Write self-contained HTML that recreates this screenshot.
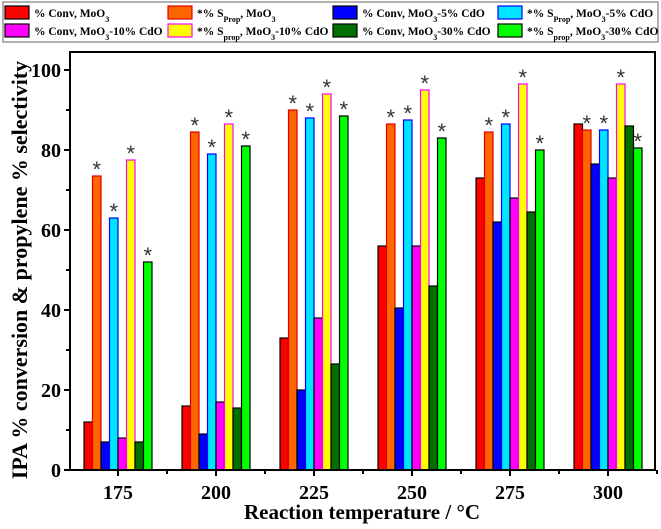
<!DOCTYPE html>
<html><head><meta charset="utf-8"><style>
body{margin:0;background:#fff;}
svg{display:block;font-family:"Liberation Serif",serif;}
</style></head><body>
<svg id="chart" width="661" height="529">
<g id="legend">
<rect x="3" y="2" width="655" height="40" fill="#fff" stroke="#999" stroke-width="1.5"/>
</g>
<g id="plot"></g>
<text x="362" y="519" text-anchor="middle" font-size="21" font-weight="bold">Reaction temperature / °C</text>
<text transform="translate(27,270) rotate(-90)" text-anchor="middle" font-size="22" font-weight="bold">IPA % conversion &amp; propylene % selectivity</text>
</svg>
<script>
const categories = ["175","200","225","250","275","300"];
const convMoO3 = [12,16,33,56,73,86.5];
const selMoO3 = [73.5,84.5,90,86.5,84.5,85];
const conv5 = [7,9,20,40.5,62,76.5];
const sel5 = [63,79,88,87.5,86.5,85];
const conv10 = [8,17,38,56,68,73];
const sel10 = [77.5,86.5,94,95,96.5,96.5];
const conv30 = [7,15.5,26.5,46,64.5,86];
const sel30 = [52,81,88.5,83,80,80.5];
const yTicks = [0,20,40,60,80,100];

const series = [
 {v:convMoO3, fill:"#ff0000", stroke:"#000", star:false, name:"conv-moo3", label:'% Conv, MoO<tspan baseline-shift="sub" font-size="8">3</tspan>'},
 {v:selMoO3, fill:"#ff6600", stroke:"#e00000", star:true, name:"sel-moo3", label:'*% S<tspan baseline-shift="sub" font-size="8">Prop</tspan>, MoO<tspan baseline-shift="sub" font-size="8">3</tspan>'},
 {v:conv5, fill:"#0000ff", stroke:"#000", star:false, name:"conv-5cdo", label:'% Conv, MoO<tspan baseline-shift="sub" font-size="8">3</tspan>-5% CdO'},
 {v:sel5, fill:"#00e5ff", stroke:"#0000ff", star:true, name:"sel-5cdo", label:'*% S<tspan baseline-shift="sub" font-size="8">Prop</tspan>, MoO<tspan baseline-shift="sub" font-size="8">3</tspan>-5% CdO'},
 {v:conv10, fill:"#ff00ff", stroke:"#000", star:false, name:"conv-10cdo", label:'% Conv, MoO<tspan baseline-shift="sub" font-size="8">3</tspan>-10% CdO'},
 {v:sel10, fill:"#ffff00", stroke:"#ff00ff", star:true, name:"sel-10cdo", label:'*% S<tspan baseline-shift="sub" font-size="8">prop</tspan>, MoO<tspan baseline-shift="sub" font-size="8">3</tspan>-10% CdO'},
 {v:conv30, fill:"#007000", stroke:"#000", star:false, name:"conv-30cdo", label:'% Conv, MoO<tspan baseline-shift="sub" font-size="8">3</tspan>-30% CdO'},
 {v:sel30, fill:"#00ff00", stroke:"#000", star:true, name:"sel-30cdo", label:'*% S<tspan baseline-shift="sub" font-size="8">prop</tspan>, MoO<tspan baseline-shift="sub" font-size="8">3</tspan>-30% CdO'}
];
const NS="http://www.w3.org/2000/svg";
const L=70,R=655,T=52,B=470;
const y=v=>B-(v/100)*400;
const x=i=>118+i*98;
const bw=8.5;
const plot=document.getElementById('plot');
function mk(tag,attrs,parent){const e=document.createElementNS(NS,tag);for(const k in attrs)e.setAttribute(k,attrs[k]);(parent||plot).appendChild(e);return e;}

series.forEach((s,si)=>{
 s.v.forEach((val,ci)=>{
  const bx=x(ci)-4*bw+si*bw;
  const r=mk('rect',{x:bx,y:y(val),width:bw,height:B-y(val),fill:s.fill,stroke:s.stroke,'stroke-width':1.2});
  
  
  if(s.star){
   const t=mk('text',{x:bx+bw/2,y:y(val)+1,'text-anchor':'middle','font-size':22,'font-family':'Liberation Sans, sans-serif',fill:'#333'});
   t.textContent='*';
   
   
  }
 });
});
const f=mk('rect',{x:L,y:T,width:R-L,height:B-T,fill:'none',stroke:'#000','stroke-width':2});


yTicks.forEach(v=>{
 mk('line',{x1:L-6,x2:L,y1:y(v),y2:y(v),stroke:'#000','stroke-width':2});
 if(v<100) mk('line',{x1:L-4,x2:L,y1:y(v+10),y2:y(v+10),stroke:'#000','stroke-width':2});
 const t=mk('text',{x:L-9,y:y(v)+7,'text-anchor':'end','font-size':20,'font-weight':'bold'});
 t.textContent=v;
 
 
});
categories.forEach((c,i)=>{
 mk('line',{x1:x(i),x2:x(i),y1:B,y2:B+6,stroke:'#000','stroke-width':2});
 mk('line',{x1:x(i)+49,x2:x(i)+49,y1:B,y2:B+4,stroke:'#000','stroke-width':2});
 const t=mk('text',{x:x(i),y:B+29,'text-anchor':'middle','font-size':20,'font-weight':'bold'});
 t.textContent=c;
 
 
});
const lg=document.getElementById('legend');
const colX=[5,168,333,498];
series.forEach((s,si)=>{
 const row=si<4?0:1, col=si%4;
 const lx=colX[col], ly=row?24:6;
 const r=mk('rect',{x:lx,y:ly,width:24,height:13,fill:s.fill,stroke:s.stroke,'stroke-width':1.2},lg);
 
 
 const t=mk('text',{x:lx+29,y:ly+11,'font-size':11.5,'font-weight':'bold'},lg);
 t.innerHTML=s.label;
 
 
});
</script>
</body></html>
